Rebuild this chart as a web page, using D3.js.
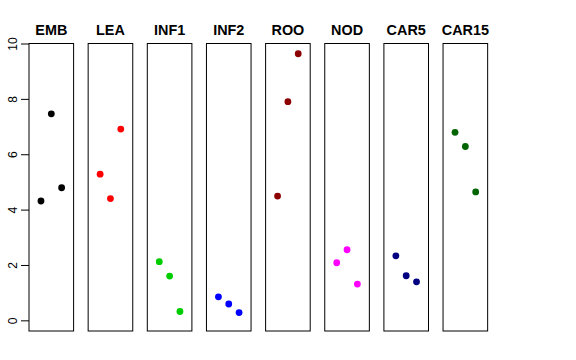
<!DOCTYPE html>
<html><head><meta charset="utf-8">
<script src="https://cdn.jsdelivr.net/npm/d3@7"></script>
<style>body{margin:0;background:#fff}</style>
</head><body>
<script>
const categories = ["EMB","LEA","INF1","INF2","ROO","NOD","CAR5","CAR15"];
const colors = ["#000000","#FF0000","#00CD00","#0000FF","#8B0000","#FF00FF","#000080","#006400"];
const values = [
  [4.31, 7.46, 4.79],
  [5.28, 4.40, 6.91],
  [2.12, 1.60, 0.32],
  [0.85, 0.59, 0.28],
  [4.49, 7.90, 9.63],
  [2.08, 2.55, 1.31],
  [2.33, 1.61, 1.39],
  [6.79, 6.28, 4.64]
];
const yTicks = [0, 2, 4, 6, 8, 10];

(function () {
const W = 576, H = 360;
const svg = d3.select("body").append("svg").attr("width", W).attr("height", H);
const plotTop = 43.5, plotBottom = 331, left0 = 29, panelW = 44.6, step = 59.15;

const y = d3.scaleLinear().domain([-0.385, 10]).range([plotBottom, plotTop]);

// y axis
const ax = svg.append("g").attr("transform", `translate(${left0},0)`)
  .call(d3.axisLeft(y).tickValues(yTicks).tickSize(8).tickPadding(0).tickFormat(d3.format("d")));
ax.select(".domain").remove();
ax.selectAll("line").attr("stroke", "#000");
ax.selectAll("text").remove();
ax.selectAll(".tick").append("text")
  .attr("transform", "translate(-16.5,0) rotate(-90)")
  .attr("text-anchor", "middle")
  .attr("dy", "0.72em")
  .attr("y", -4.3)
  .attr("fill", "#000")
  .style("font-family", "Liberation Sans, Arial, sans-serif")
  .style("font-size", "12px")
  .text(d => d);

categories.forEach((cat, i) => {
  const x0 = left0 + i * step;
  const x = d3.scaleLinear().domain([-0.16, 4.16]).range([x0, x0 + panelW]);
  const g = svg.append("g");
  g.append("rect")
    .attr("x", x.range()[0]).attr("y", plotTop)
    .attr("width", panelW).attr("height", plotBottom - plotTop)
    .attr("fill", "none").attr("stroke", "#000").attr("stroke-width", 1);
  g.selectAll("circle").data(values[i]).join("circle")
    .attr("cx", (d, j) => x(j + 1))
    .attr("cy", d => y(d))
    .attr("r", 3.4)
    .attr("fill", colors[i]);
  g.append("text")
    .attr("x", x(2)).attr("y", 34.5)
    .attr("text-anchor", "middle")
    .style("font-family", "Liberation Sans, Arial, sans-serif")
    .style("font-weight", "bold")
    .style("font-size", "14.4px")
    .text(cat);
});
})();
</script>
</body></html>
